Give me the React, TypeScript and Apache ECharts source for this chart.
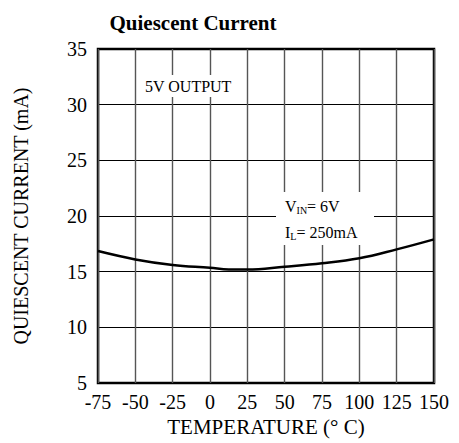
import React, { useEffect, useRef } from "react";
import * as echarts from "echarts";

const temps = [-75, -50, -25, 0, 12.5, 25, 50, 75, 100, 125, 150];
const current = [16.85, 16.1, 15.6, 15.35, 15.2, 15.2, 15.45, 15.75, 16.2, 17.0, 17.9];
const xTicks = { min: -75, max: 150, interval: 25 };
const yTicks = { min: 5, max: 35, interval: 5 };

const FONT = "'Liberation Serif', 'Times New Roman', serif";

export default function App() {
  const ref = useRef<HTMLDivElement>(null);
  useEffect(() => {
    if (!ref.current) return;
    const chart = echarts.init(ref.current, null, { renderer: "svg" });
    chart.setOption({
      animation: false,
      backgroundColor: "#ffffff",
      textStyle: { fontFamily: FONT, color: "#000" },
      title: {
        text: "Quiescent Current",
        left: 188,
        top: 7,
        textAlign: "center",
        textStyle: { fontFamily: FONT, fontWeight: "bold", fontSize: 21, color: "#000" },
      },
      grid: {
        left: 98,
        right: 25,
        top: 49,
        bottom: 60,
        show: true,
        borderColor: "#000",
        borderWidth: 2.5,
        backgroundColor: "transparent",
      },
      xAxis: {
        type: "value",
        min: xTicks.min,
        max: xTicks.max,
        interval: xTicks.interval,
        name: "TEMPERATURE (° C)",
        nameLocation: "middle",
        nameGap: 28,
        nameTextStyle: { fontFamily: FONT, fontSize: 21, color: "#000" },
        axisLine: { show: false },
        axisTick: { show: false },
        axisLabel: { fontFamily: FONT, fontSize: 20, color: "#000", margin: 9 },
        splitLine: { show: true, lineStyle: { color: "#555", width: 1.4 } },
      },
      yAxis: {
        type: "value",
        min: yTicks.min,
        max: yTicks.max,
        interval: yTicks.interval,
        name: "QUIESCENT CURRENT (mA)",
        nameLocation: "middle",
        nameGap: 67,
        nameTextStyle: { fontFamily: FONT, fontSize: 20, color: "#000" },
        axisLine: { show: false },
        axisTick: { show: false },
        axisLabel: { fontFamily: FONT, fontSize: 20, color: "#000", margin: 11 },
        splitLine: { show: true, lineStyle: { color: "#000", width: 1 } },
      },
      graphic: [
        {
          type: "rect",
          z: 100,
          shape: { x: 139, y: 75, width: 100, height: 22 },
          style: { fill: "#fff" },
        },
        {
          type: "text",
          z: 101,
          x: 145,
          y: 86,
          style: {
            text: "5V OUTPUT",
            fontFamily: FONT,
            fontSize: 16,
            fill: "#000",
            verticalAlign: "middle",
          },
        },
        {
          type: "rect",
          z: 100,
          shape: { x: 276, y: 192, width: 98, height: 53 },
          style: { fill: "#fff" },
        },
        {
          type: "text",
          z: 101,
          x: 285,
          y: 206,
          style: {
            text: "{n|V}{s|IN}{n|= 6V}",
            verticalAlign: "middle",
            rich: {
              n: { fontFamily: FONT, fontSize: 16, fill: "#000" },
              s: { fontFamily: FONT, fontSize: 10, fill: "#000", padding: [9, 0, 0, 0] },
            },
          },
        },
        {
          type: "text",
          z: 101,
          x: 285,
          y: 232,
          style: {
            text: "{n|I}{s|L}{n|= 250mA}",
            verticalAlign: "middle",
            rich: {
              n: { fontFamily: FONT, fontSize: 16, fill: "#000" },
              s: { fontFamily: FONT, fontSize: 10, fill: "#000", padding: [9, 0, 0, 0] },
            },
          },
        },
      ],
      series: [
        {
          type: "line",
          data: temps.map((t, i) => [t, current[i]]),
          smooth: 0.4,
          symbol: "none",
          z: 110,
          lineStyle: { color: "#000", width: 2.5 },
        },
      ],
    });
    return () => chart.dispose();
  }, []);
  return (
    <div
      ref={ref}
      style={{ position: "fixed", left: 0, top: 0, width: 459, height: 443 }}
    />
  );
}
